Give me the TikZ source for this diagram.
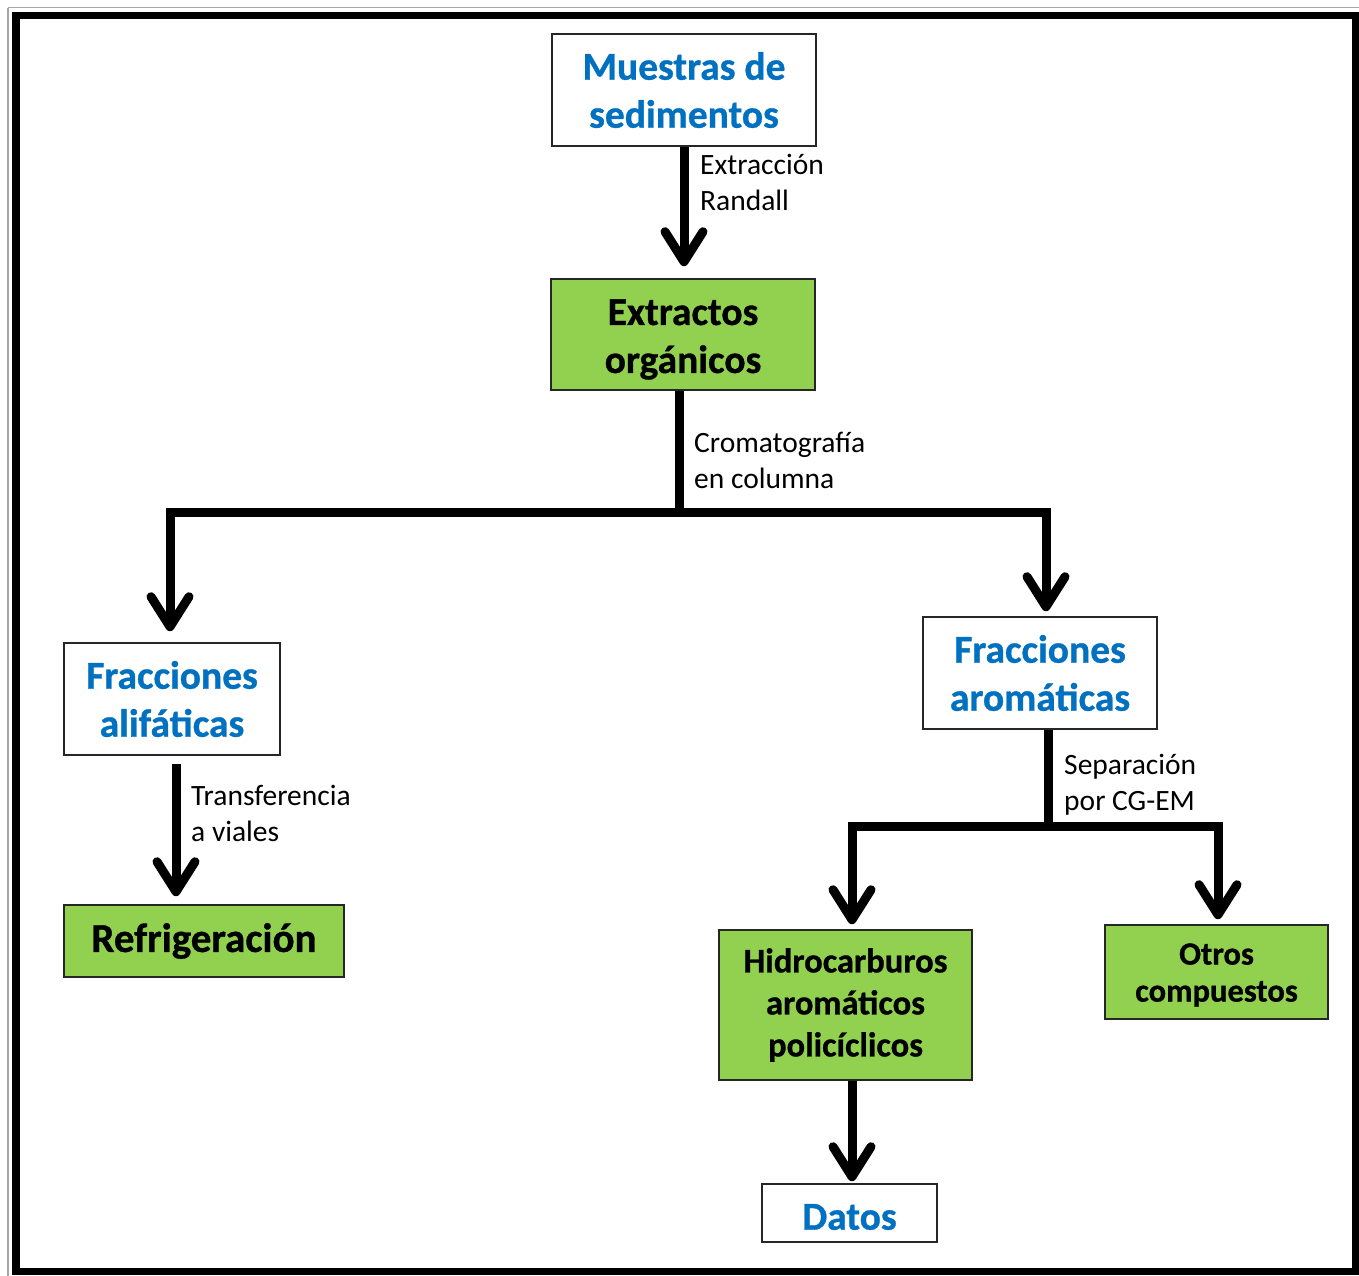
\documentclass[tikz,border=0pt]{standalone}
\usepackage{fontspec}
\setmainfont{Carlito}
\newfontfamily\heavyfont{Carlito}[UprightFont=*-Bold, UprightFeatures={FakeBold=0.8}]
\usetikzlibrary{arrows.meta}
\definecolor{boxblue}{HTML}{0070C0}
\definecolor{boxgreen}{HTML}{92D050}
\begin{document}
\begin{tikzpicture}[x=1pt,y=-1pt,
  basebox/.style={draw=black!85, line width=1.6pt, inner sep=0pt, align=center},
  wbox/.style={basebox, fill=white, text=boxblue, font=\fontsize{39.5}{48}\selectfont\heavyfont},
  gbox/.style={basebox, fill=boxgreen, text=black, font=\fontsize{39.5}{48}\selectfont\heavyfont},
  btext/.style={inner sep=0pt, align=center},
  conn/.style={line width=9pt},
  arr/.style={line width=9pt, -{Straight Barb[length=30pt,width=38pt,round]}},
  lab/.style={anchor=west, align=left, inner sep=0pt, font=\fontsize{29.5}{36}\selectfont}]
\useasboundingbox (0,0) rectangle (1359,1275);
% frame
\draw[gray!70, line width=1.5pt] (8,7.5) -- (1400,7.5);
\draw[gray!70, line width=1.5pt] (8,7.5) -- (8,1300);
\draw[black, line width=7.5pt] (16,15.5) rectangle (1355.5,1271.5);
% boxes
\node[wbox, minimum width=264pt, minimum height=112pt] (mue) at (684,90) {Muestras de\\sedimentos};
\node[gbox, minimum width=264pt, minimum height=111pt] (ext) at (683,334.5) {};
\node[btext, gbox, draw=none, fill=none] (ext-t) at ([yshift=-5pt]ext.center) {Extractos\\orgánicos};
\node[wbox, minimum width=216pt, minimum height=112pt] (alif) at (172,699) {Fracciones\\alifáticas};
\node[wbox, minimum width=234pt, minimum height=112pt] (arom) at (1040,673) {Fracciones\\aromáticas};
\node[gbox, minimum width=280pt, minimum height=72pt, font=\fontsize{41}{48}\selectfont\heavyfont] (ref) at (204,941) {Refrigeración};
\node[gbox, minimum width=253pt, minimum height=150pt, font=\fontsize{34.5}{42}\selectfont\heavyfont] (hid) at (845.5,1005) {Hidrocarburos\\aromáticos\\policíclicos};
\node[gbox, minimum width=223pt, minimum height=94pt] (otr) at (1216.5,972) {};
\node[btext, gbox, draw=none, fill=none, font=\fontsize{32.5}{37}\selectfont\heavyfont] (otr-t) at ([yshift=-3pt]otr.center) {Otros\\compuestos};
\node[wbox, minimum width=175pt, minimum height=58pt] (dat) at (849.5,1213) {};
\node[btext, wbox, draw=none, fill=none] (dat-t) at ([yshift=-4pt]dat.center) {Datos};
% connectors
\draw[arr, shorten >=12pt] (mue.south) -- (mue.south |- ext.north);
\coordinate (j1) at ([xshift=-4pt]ext.south |- 0,512);
\draw[conn] ([xshift=-4pt]ext.south) -- (j1);
\draw[arr, shorten >=11pt] (j1) -| ([xshift=-2pt]alif.north);
\draw[arr, shorten >=5pt] (j1) -| ([xshift=6pt]arom.north);
\draw[arr, shorten <=8pt, shorten >=8pt] ([xshift=4pt]alif.south) -- ([xshift=4pt]alif.south |- ref.north);
\coordinate (j2) at ([xshift=8pt]arom.south |- 0,826);
\draw[conn] ([xshift=8pt]arom.south) -- (j2);
\draw[arr, shorten >=5pt] (j2) -| ([xshift=6.5pt]hid.north);
\draw[arr, shorten >=5pt] (j2) -| ([xshift=1.5pt]otr.north);
\draw[arr, shorten >=2pt] ([xshift=6.5pt]hid.south) -- ([xshift=6.5pt]hid.south |- dat.north);
% labels
\node[lab] (l1) at (700,182) {Extracción\\Randall};
\node[lab] (l2) at (694,460) {Cromatografía\\en columna};
\node[lab] (l3) at (191,813) {Transferencia\\a viales};
\node[lab] (l4) at (1064,785) {Separación\\por CG-EM};
\end{tikzpicture}
\end{document}
